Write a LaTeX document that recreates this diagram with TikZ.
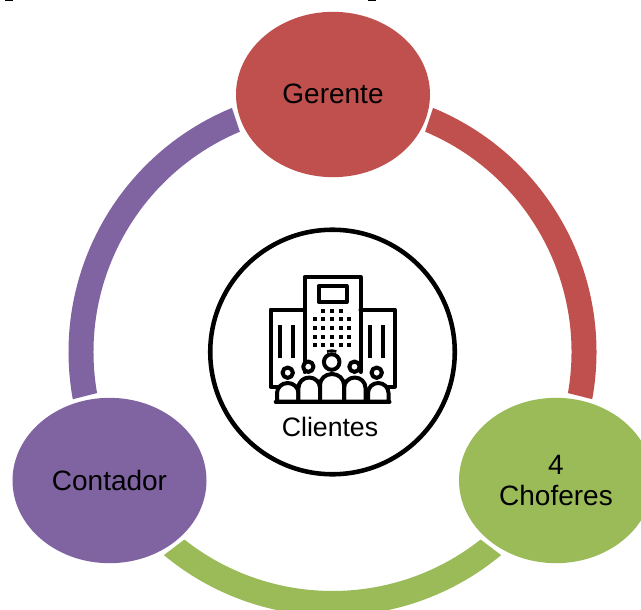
\documentclass[tikz,border=0pt]{standalone}
\usepackage{fontspec}
\setmainfont{Liberation Sans}
\usetikzlibrary{shapes.geometric,calc}
\definecolor{rojo}{HTML}{C0504D}
\definecolor{verde}{HTML}{9BBB59}
\definecolor{morado}{HTML}{8064A2}
\tikzset{
  blob/.style={ellipse,minimum width=145.5pt,minimum height=124pt,inner sep=0pt,align=center,text=black,font=\fontsize{21}{22.5}\selectfont},
  icon/.style={line width=3pt,line join=round,line cap=round,black},
  person/.style={icon,fill=white},
  dot/.style={black}
}
\newcommand{\ringpart}[5]{%
  \fill[#1] (332.5,352) ++(#2:264) arc[start angle=#2,end angle=#3,radius=264]
    -- ($(332.5,352)+(#4:239)$) arc[start angle=#4,end angle=#5,radius=239] -- cycle;}
\newcommand{\bodyshape}[4]{% left x, right x, shoulder y, arc height
  \draw[person] (#1,401.5) -- (#1,#3) arc[start angle=180,end angle=360,x radius={(#2-#1)/2},y radius=#4] -- (#2,401.5) -- cycle;}
\begin{document}
\begin{tikzpicture}[x=0.75pt,y=-0.75pt]
\useasboundingbox (0,0) rectangle (641,609);
\clip (0,0) rectangle (641,609);
\fill[black] (5,0) rectangle (13,1.2);
\fill[black] (368,0) rectangle (376,1.2);
% ring
\ringpart{rojo}{-67.6}{10.3}{9.9}{-67.2}
\ringpart{verde}{50.3}{129.7}{128.3}{51.7}
\ringpart{morado}{-112.4}{-190.3}{-189.9}{-112.8}
% stages
\node[blob,fill=rojo] (gerente) at (333,94.5) {\raisebox{1pt}{Gerente}};
\node[blob,fill=morado] (contador) at (109.5,480.5) {Contador};
\node[blob,fill=verde] (choferes) at (556,480.5) {4\\Choferes};
% centre
\node[circle,draw=black,line width=3.4pt,fill=white,minimum size=183.4pt,inner sep=0pt] (centro) at (332.5,352) {};
\node[font=\fontsize{20}{22}\selectfont,inner sep=0pt] (clientes) at (330,427) {Clientes};
% icon: buildings
\draw[icon] (277,386.7) -- (270.5,386.7) -- (270.5,309.5) -- (304.5,309.5);
\draw[icon] (388,386.7) -- (394.5,386.7) -- (394.5,309.5) -- (360.5,309.5);
\draw[icon] (304.5,372) -- (304.5,277) -- (360.5,277) -- (360.5,372);
\draw[icon] (318.5,286) rectangle (346.5,302);
\foreach \x in {280,293.3,370,382.5}{\fill (\x-2,325) rectangle (\x+2,358);}
\foreach \x in {323.3,331.7,341}{\fill[dot] (\x-2.1,308.9) rectangle (\x+2.1,313.1);}
\foreach \y in {319.3,328.3,336.7,345.3}{
  \foreach \x in {315,323.3,331.7,341,349.3}{\fill[dot] (\x-2.1,\y-2.1) rectangle (\x+2.1,\y+2.1);}}
% icon: people
\bodyshape{277}{298.4}{393}{10}
\bodyshape{368}{388.5}{393}{10}
\bodyshape{298.4}{320}{388}{10.5}
\bodyshape{344}{365.5}{388}{10.5}
\bodyshape{320}{344}{385}{11}
\draw[icon] (275.7,401.7) -- (389.5,401.7);
\draw[person] (287.7,372.7) circle[radius=5.2];
\draw[person] (376.7,372.7) circle[radius=5.2];
\draw[person] (308.3,366.7) circle[radius=5.2];
\draw[person] (354.5,366.7) circle[radius=5.2];
\draw[person] (331.7,362) circle[radius=7.8];
\draw[white,line width=1.6pt] (323.5,354.5) arc[start angle=-138,end angle=-42,radius=11];
\draw[icon,line width=2pt,line cap=butt] (327,351.5) arc[start angle=-112,end angle=-68,radius=12.5];
\end{tikzpicture}
\end{document}
